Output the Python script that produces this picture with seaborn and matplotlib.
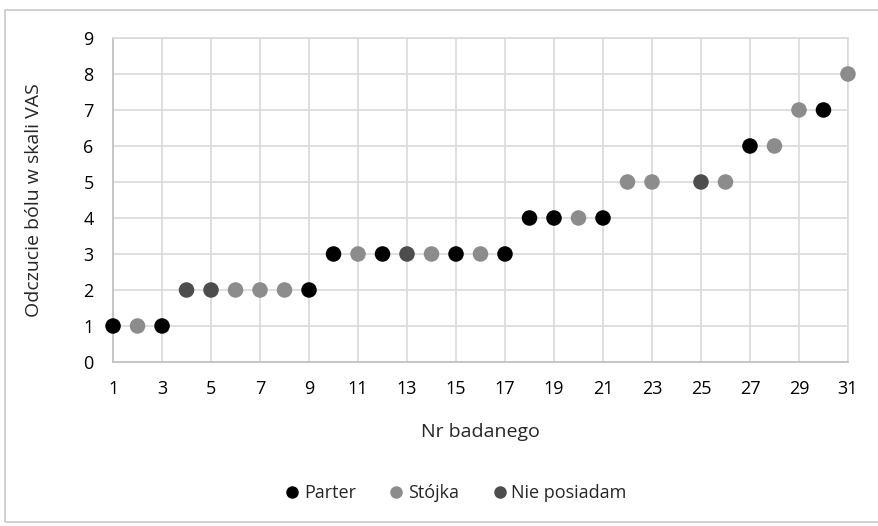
import matplotlib
matplotlib.use("Agg")
import matplotlib.pyplot as plt
import seaborn as sns
import pandas as pd
from matplotlib.patches import Rectangle

subjects = [1, 2, 3, 4, 5, 6, 7, 8, 9, 10, 11, 12, 13, 14, 15, 16, 17, 18, 19, 20,
            21, 22, 23, 25, 26, 27, 28, 29, 30, 31]
vas = [1, 1, 1, 2, 2, 2, 2, 2, 2, 3, 3, 3, 3, 3, 3, 3, 3, 4, 4, 4,
       4, 5, 5, 5, 5, 6, 6, 7, 7, 8]
group = ["Parter", "Stójka", "Parter", "Nie posiadam", "Nie posiadam", "Stójka", "Stójka", "Stójka", "Parter",
         "Parter", "Stójka", "Parter", "Nie posiadam", "Stójka", "Parter", "Stójka", "Parter",
         "Parter", "Parter", "Stójka", "Parter", "Stójka", "Stójka", "Nie posiadam", "Stójka",
         "Parter", "Stójka", "Stójka", "Parter", "Stójka"]
categories = ["Parter", "Stójka", "Nie posiadam"]
colors = ["#000000", "#8c8c8c", "#4d4d4d"]
x_ticks = list(range(1, 32, 2))
y_ticks = list(range(0, 10))

df = pd.DataFrame({"Nr": subjects, "VAS": vas, "Grupa": group})

sns.set_theme(style="white")
plt.rcParams["font.family"] = ["Open Sans", "DejaVu Sans"]

fig = plt.figure(figsize=(8.79, 5.26), dpi=100)
ax = fig.add_axes([0.1286, 0.3118, 0.8361, 0.616])

# outer chart frame
fig.patches.append(Rectangle((5 / 879, 4 / 526), 1.2, 512 / 526, transform=fig.transFigure,
                             fill=False, edgecolor="#c8c8c8", linewidth=1.2, zorder=0))

sns.scatterplot(data=df, x="Nr", y="VAS", hue="Grupa", hue_order=categories,
                palette=dict(zip(categories, colors)), s=125, edgecolor="none",
                ax=ax, legend=False, zorder=3, clip_on=False)

ax.set_xlim(1, 31)
ax.set_ylim(0, 9)
ax.set_xticks(x_ticks)
ax.set_yticks(y_ticks)
ax.grid(True, color="#d9d9d9", linewidth=1.2)
ax.set_axisbelow(True)
for sp in ax.spines.values():
    sp.set_visible(True)
    sp.set_color("#d9d9d9")
    sp.set_linewidth(1.2)
ax.spines["left"].set_color("#bfbfbf")
ax.spines["bottom"].set_color("#bfbfbf")
ax.tick_params(axis="x", labelsize=13, colors="#000000", length=0, pad=13)
ax.tick_params(axis="y", labelsize=13, colors="#000000", length=0, pad=14)
ax.set_xlabel("Nr badanego", fontsize=14, labelpad=18)
ax.set_ylabel("Odczucie bólu w skali VAS", fontsize=14, labelpad=29)

handles = [plt.Line2D([], [], marker="o", linestyle="", markersize=9,
                      markerfacecolor=c, markeredgecolor="none") for c in colors]
fig.legend(handles, categories, loc="center", bbox_to_anchor=(0.515, 0.062), ncol=3,
           frameon=False, fontsize=13, handletextpad=-0.1, columnspacing=1.5,
           handlelength=1.5)

fig.savefig("out.png", dpi=100)
